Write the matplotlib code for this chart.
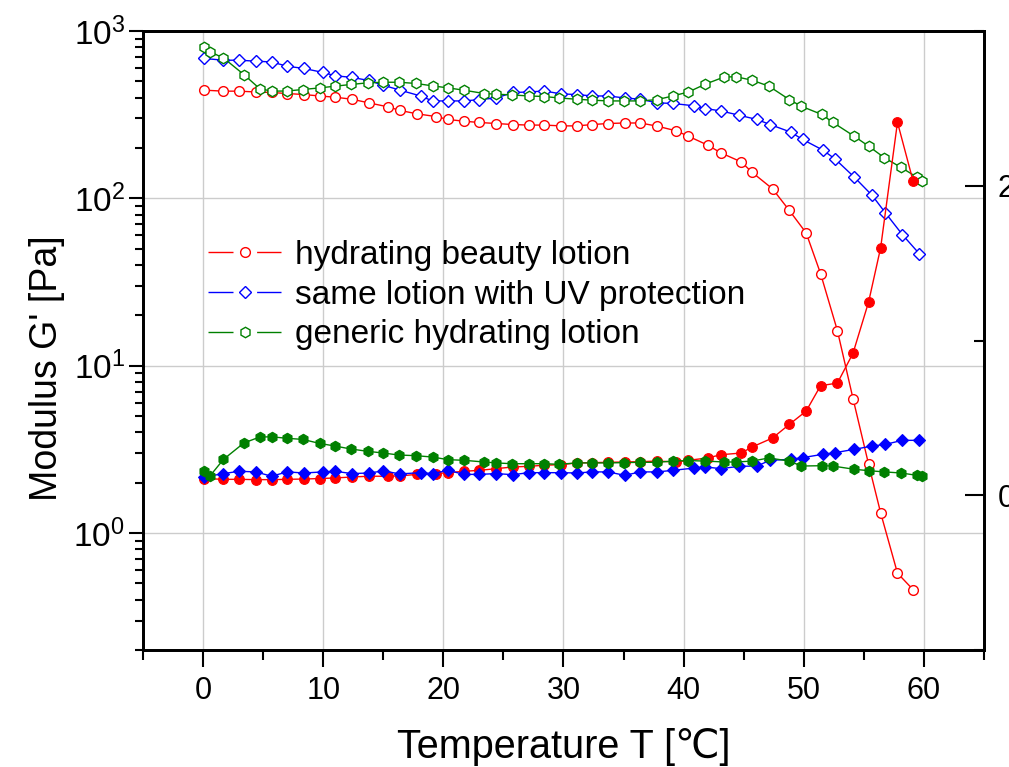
import matplotlib
matplotlib.use("Agg")
import matplotlib.pyplot as plt
from matplotlib.lines import Line2D
from matplotlib.ticker import LogLocator, FixedLocator, NullFormatter, MultipleLocator

# Temperature sweep: storage modulus G' (open symbols, left log axis)
# and damping factor (filled symbols, right linear axis)
T_beauty = [0.1, 1.7, 3.0, 4.4, 5.7, 7.0, 8.4, 9.7, 11.0, 12.4, 13.8, 15.4, 16.4, 17.8, 19.4,
            20.4, 21.7, 23.0, 24.4, 25.8, 27.1, 28.4, 29.8, 31.1, 32.4, 33.7, 35.1, 36.4, 37.8,
            39.4, 40.4, 42.0, 43.1, 44.8, 45.7, 47.4, 48.8, 50.2, 51.4, 52.8, 54.1, 55.4, 56.4,
            57.8, 59.1]
G_beauty = [443, 437, 437, 432, 429, 423, 417, 409, 402, 391, 372, 352, 335, 320, 308,
            296, 289, 284, 280, 276, 274, 274, 271, 271, 276, 280, 282, 282, 270,
            253, 235, 208, 187, 165, 143, 114, 84.6, 62.1, 35.5, 16.2, 6.36, 2.57, 1.32,
            0.576, 0.459]
tan_beauty = [0.108, 0.103, 0.103, 0.101, 0.101, 0.103, 0.105, 0.108, 0.112, 0.118, 0.123,
              0.123, 0.125, 0.135, 0.140, 0.146, 0.155, 0.161, 0.172, 0.183, 0.187, 0.194,
              0.198, 0.209, 0.211, 0.213, 0.215, 0.217, 0.221, 0.215, 0.226, 0.241, 0.262,
              0.273, 0.312, 0.370, 0.458, 0.544, 0.708, 0.725, 0.918, 1.25, 1.60, 2.41, 2.03]

T_uv = [0.1, 1.7, 3.0, 4.4, 5.7, 7.0, 8.4, 10.0, 11.0, 12.4, 13.8, 15.0, 16.4, 18.1, 19.1,
        20.4, 21.7, 23.0, 24.4, 25.8, 27.1, 28.4, 29.8, 31.1, 32.4, 33.7, 35.1, 36.4, 37.8,
        39.1, 40.9, 41.8, 43.1, 44.6, 46.1, 47.2, 48.9, 49.9, 51.6, 52.6, 54.2, 55.7, 56.8,
        58.2, 59.6]
G_uv = [685, 669, 669, 660, 653, 616, 597, 565, 540, 528, 506, 474, 443, 409, 382,
        382, 382, 389, 398, 429, 432, 438, 421, 417, 409, 409, 398, 391, 372,
        369, 357, 344, 333, 314, 296, 276, 249, 225, 194, 172, 134, 104, 81.8,
        60.8, 46.8]
tan_uv = [0.118, 0.140, 0.155, 0.151, 0.123, 0.151, 0.144, 0.151, 0.155, 0.140, 0.144,
          0.157, 0.138, 0.146, 0.140, 0.161, 0.135, 0.135, 0.140, 0.133, 0.146, 0.146,
          0.146, 0.144, 0.151, 0.151, 0.129, 0.151, 0.151, 0.161, 0.176, 0.183, 0.172,
          0.187, 0.189, 0.226, 0.232, 0.243, 0.265, 0.275, 0.297, 0.318, 0.329, 0.355, 0.355]

T_generic = [0.1, 0.6, 1.7, 3.4, 4.7, 5.7, 7.0, 8.3, 9.7, 11.0, 12.3, 13.7, 15.0, 16.3, 17.7,
             19.1, 20.4, 21.7, 23.4, 24.4, 25.7, 27.1, 28.4, 29.6, 31.1, 32.4, 33.7, 35.0,
             36.4, 37.8, 39.1, 40.4, 41.8, 43.4, 44.4, 45.7, 47.1, 48.8, 49.8, 51.5, 52.4,
             54.2, 55.4, 56.7, 58.1, 59.4, 59.8]
G_generic = [804, 750, 690, 549, 453, 437, 438, 447, 457, 468, 479, 490, 494, 494, 486,
             470, 457, 443, 423, 419, 415, 409, 406, 398, 391, 386, 382, 382,
             382, 389, 409, 432, 481, 532, 532, 508, 468, 389, 355, 317, 285,
             235, 205, 175, 153, 134, 127]
tan_generic = [0.157, 0.127, 0.232, 0.338, 0.376, 0.378, 0.368, 0.361, 0.335, 0.318, 0.299,
               0.284, 0.273, 0.260, 0.256, 0.247, 0.230, 0.226, 0.215, 0.209, 0.204, 0.204,
               0.204, 0.200, 0.209, 0.209, 0.209, 0.211, 0.213, 0.213, 0.221, 0.224, 0.221,
               0.215, 0.215, 0.221, 0.241, 0.221, 0.189, 0.191, 0.189, 0.168, 0.159, 0.151,
               0.144, 0.129, 0.127]

labels = ["hydrating beauty lotion", "same lotion with UV protection", "generic hydrating lotion"]
colors = ["#ff0000", "#0000ff", "#008000"]
markers = ["o", "D", "h"]
sizes = [7.0, 6.5, 7.5]

plt.rcParams["font.family"] = ["Liberation Sans", "DejaVu Sans"]
plt.rcParams["mathtext.fontset"] = "custom"
plt.rcParams["mathtext.rm"] = "Liberation Sans"
plt.rcParams["mathtext.it"] = "Liberation Sans:italic"

fig = plt.figure(figsize=(10.09, 7.67), dpi=100)
ax = fig.add_axes([0.1417, 0.1525, 0.8335, 0.8071])
ax2 = ax.twinx()

series = [(T_beauty, G_beauty, tan_beauty), (T_uv, G_uv, tan_uv), (T_generic, G_generic, tan_generic)]
for (T, G, tan), c, m, s in zip(series, colors, markers, sizes):
    ax.plot(T, G, color=c, lw=1.0, marker=m, ms=s, mfc="white", mec=c, mew=1.0)
    ax2.plot(T, tan, color=c, lw=1.0, marker=m, ms=s, mfc=c, mec=c, mew=0.8)

ax.set_yscale("log")
ax.set_ylim(0.2, 1000)
ax.set_xlim(-5, 65)
ax2.set_ylim(-1, 3)

ax.xaxis.set_major_locator(MultipleLocator(10))
ax.xaxis.set_minor_locator(MultipleLocator(5))
ax.yaxis.set_major_locator(LogLocator(base=10))
ax.yaxis.set_minor_locator(LogLocator(base=10, subs=range(2, 10)))
ax.yaxis.set_minor_formatter(NullFormatter())

ax2.yaxis.set_major_locator(FixedLocator([0, 2]))
ax2.yaxis.set_minor_locator(FixedLocator([-1, 1, 3]))

ax.grid(True, which="major", color="#cccccc", lw=1.0)
ax.set_axisbelow(True)

for a in (ax, ax2):
    for sp in a.spines.values():
        sp.set_linewidth(2.0)

ax.tick_params(axis="x", which="major", direction="out", length=12, width=1.5, labelsize=22, pad=7)
ax.tick_params(axis="x", which="minor", direction="out", length=7, width=1.5)
ax.tick_params(axis="y", which="major", direction="out", length=10, width=1.5, labelsize=24, pad=3)
ax.tick_params(axis="y", which="minor", direction="out", length=6, width=1.5)
ax2.tick_params(axis="y", which="major", direction="in", length=14, width=1.5, labelsize=22, pad=10)
ax2.tick_params(axis="y", which="minor", direction="in", length=7, width=1.5)

fig.text(564 / 1009, 1 - 758 / 767, "Temperature T [\u2103]", ha="center", va="baseline",
         fontsize=28.5)
fig.text(57 / 1009, 1 - 368 / 767, "Modulus G' [Pa]", ha="center", va="baseline", rotation=90,
         rotation_mode="anchor", fontsize=27)

# legend entries: line broken around the open symbol
handles = [Line2D([], [], color=c, lw=1.0, ls=(0, (18, 17, 18, 60)), marker=m, ms=s,
                  mfc="white", mec=c, mew=1.0)
           for c, m, s in zip(colors, markers, sizes)]
ax.legend(handles, labels, loc="upper left", bbox_to_anchor=(208 / 1009, 1 - 240 / 767),
          bbox_transform=fig.transFigure, frameon=False, fontsize=24, handlelength=2.2,
          handletextpad=0.4, labelspacing=0.26, borderpad=0, borderaxespad=0, numpoints=1)

fig.savefig("out.png", dpi=100)
